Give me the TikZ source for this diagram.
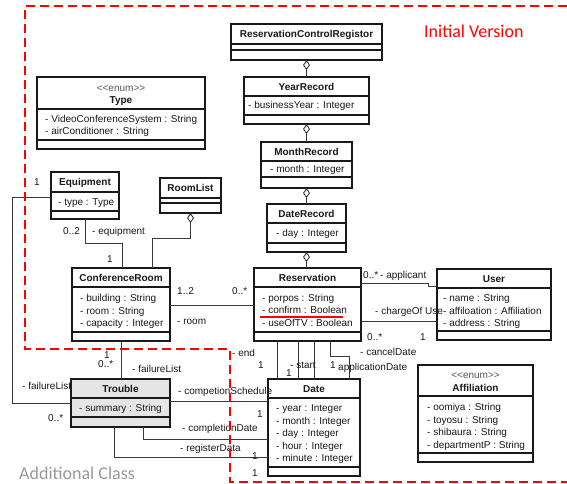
\documentclass[tikz,border=0pt]{standalone}
\usepackage{fontspec}
\newfontfamily\umlfont{Liberation Sans}
\newfontfamily\slidefont{Carlito}
\usetikzlibrary{arrows.meta}

% class box: [extra style]{name}{x1}{y1}{x2}{y2}{first separator}{second separator}
\newcommand\umlclass[8][]{%
  \node[classbox,#1,minimum width={#5pt-#3pt},minimum height={#6pt-#4pt}] (#2) at (#3,#4) {};
  \draw[sepline] (#2.west |- 0,#7) -- (#2.east |- 0,#7);
  \draw[sepline] (#2.west |- 0,#8) -- (#2.east |- 0,#8);
}

\begin{document}
\begin{tikzpicture}[x=1pt,y=-1pt,
  classbox/.style={draw=black!90,line width=1.6pt,fill=white,inner sep=0pt,outer sep=0pt,anchor=north west},
  sepline/.style={draw=black!90,line width=1.4pt},
  cname/.style={font=\umlfont\bfseries\fontsize{10}{12}\selectfont,inner sep=0pt,anchor=base,text=black!90},
  stereo/.style={font=\umlfont\fontsize{10}{12}\selectfont,inner sep=0pt,anchor=base,text=black!65},
  attr/.style={font=\umlfont\fontsize{10}{12}\selectfont,inner sep=0pt,anchor=base west,text=black!90},
  lbl/.style={font=\umlfont\fontsize{10}{12}\selectfont,inner sep=0pt,anchor=base west,text=black!90},
  conn/.style={draw=black!78,line width=0.9pt},
  agg/.style={conn,{Diamond[open,length=10pt,width=7pt]}-},
  region/.style={draw=red,line width=1.9pt,dash pattern=on 9pt off 5pt},
]
\useasboundingbox (0,0) rectangle (567,484);

% ---------- classes ----------
\umlclass{rcr}{231}{24}{382}{60}{44}{50}
\umlclass{year}{244}{77}{369}{124}{96}{115}
\umlclass{month}{261}{142}{352}{188}{161}{177}
\umlclass{dater}{267}{204}{346}{252}{223}{243}
\umlclass{res}{254}{268}{361}{341}{287}{332}
\umlclass{user}{437}{269}{551}{340}{288}{331}
\umlclass{croom}{72}{268}{170}{341}{287}{332}
\umlclass{equip}{51}{172}{119}{219}{192}{211}
\umlclass{roomlist}{160}{178}{221}{213}{198}{203}
\umlclass{typeenum}{37}{77}{205}{149}{109}{140}
\umlclass[fill=black!10]{trouble}{71}{379}{170}{427}{398}{417}
\umlclass{date}{268}{379}{360}{476}{398}{467}
\umlclass{affil}{418}{365}{533}{462}{396}{453}

% ---------- connectors ----------
\draw[agg] (rcr.south) -- (year.north);
\draw[agg] (year.south) -- (month.north);
\draw[agg] (month.south) -- (dater.north);
\draw[agg] (dater.south) -- (res.north -| dater.south);
\draw[agg] (roomlist.south) |- (152,238) -- (croom.north -| 152,0);
\draw[conn] (equip.south -| 85,0) |- (122,243) -- (croom.north -| 122,0);
\draw[conn] (croom.east |- 0,305) -- (res.west |- 0,305);
\draw[conn] (res.east |- 0,283) -- (428,283) -- (428,286) -- (user.west |- 0,286);
\draw[conn] (res.east |- 0,321) -- (user.west |- 0,321);
\draw[conn] (croom.south -| 121,0) -- (trouble.north -| 121,0);
\draw[conn] (equip.west |- 0,197) -| (12,403) -- (trouble.west |- 0,403);
\draw[conn] (trouble.east |- 0,401) -- (date.west |- 0,401);
\draw[conn] (trouble.south -| 143,0) |- (date.west |- 0,439);
\draw[conn] (trouble.south -| 114,0) |- (date.west |- 0,457);
\draw[conn] (res.south -| 277,0) -- (date.north -| 277,0);
\draw[conn] (res.south -| 298,0) -- (date.north -| 298,0);
\draw[conn] (res.south -| 314,0) -- (date.north -| 314,0);
\draw[conn] (res.south -| 330,0) |- (349,356.5) -- (date.north -| 349,0);

% ---------- class contents ----------
\node[cname] (rcrN) at (306.5,37.6) {ReservationControlRegistor};

\node[cname] (yearN) at (306.5,90.1) {YearRecord};
\node[attr] (yearA) at (248,109) {- businessYear : Integer};

\node[cname] (monthN) at (306.5,155.1) {MonthRecord};
\node[attr] (monthA) at (270,172.5) {- month : Integer};

\node[cname] (daterN) at (306.5,217.1) {DateRecord};
\node[attr] (daterA) at (276,236.5) {- day : Integer};

\node[cname] (resN) at (307.5,281.1) {Reservation};
\node[attr] (resA1) at (262,301.5) {- porpos : String};
\node[attr] (resA2) at (262,313.5) {- confirm : Boolean};
\node[attr] (resA3) at (262,326.5) {- useOfTV : Boolean};
\draw[red,line width=2.2pt] (260,316.6) -- (343,316.6);

\node[cname] (userN) at (494,282.1) {User};
\node[attr] (userA1) at (443,301.5) {- name : String};
\node[attr] (userA2) at (443,314) {- affiloation : Affiliation};
\node[attr] (userA3) at (443,326.5) {- address : String};

\node[cname] (croomN) at (121,281.1) {ConferenceRoom};
\node[attr] (croomA1) at (80,301.5) {- building : String};
\node[attr] (croomA2) at (80,314) {- room : String};
\node[attr] (croomA3) at (80,326.5) {- capacity : Integer};

\node[cname] (equipN) at (85,185.6) {Equipment};
\node[attr] (equipA) at (58,205.5) {- type : Type};

\node[cname] (roomlistN) at (190.5,191.6) {RoomList};

\node[stereo] (typeS) at (121,91.6) {<<enum>>};
\node[cname] (typeN) at (121,103.6) {Type};
\node[attr] (typeA1) at (45,122.5) {- VideoConferenceSystem : String};
\node[attr] (typeA2) at (45,134.5) {- airConditioner : String};

\node[cname] (troubleN) at (120.5,392.1) {Trouble};
\node[attr] (troubleA) at (79,411.5) {- summary : String};

\node[cname] (dateN) at (314,392.1) {Date};
\node[attr] (dateA1) at (276,411.5) {- year : Integer};
\node[attr] (dateA2) at (276,424) {- month : Integer};
\node[attr] (dateA3) at (276,436.5) {- day : Integer};
\node[attr] (dateA4) at (276,449) {- hour : Integer};
\node[attr] (dateA5) at (276,461.5) {- minute : Integer};

\node[stereo] (affilS) at (475.5,378.6) {<<enum>>};
\node[cname] (affilN) at (475.5,391.6) {Affiliation};
\node[attr] (affilA1) at (427,410.5) {- oomiya : String};
\node[attr] (affilA2) at (427,423) {- toyosu : String};
\node[attr] (affilA3) at (427,435.5) {- shibaura : String};
\node[attr] (affilA4) at (427,448) {- departmentP : String};

% ---------- association labels ----------
\node[lbl] (m1) at (63,234.5) {0..2};
\node[lbl] (l1) at (92,234.5) {- equipment};
\node[lbl] (m2) at (107,262.5) {1};
\node[lbl] (m3) at (34,185.5) {1};
\node[lbl] (m4) at (177,294.5) {1..2};
\node[lbl] (m5) at (232,294.5) {0..*};
\node[lbl] (l2) at (177,324.5) {- room};
\node[lbl] (m6) at (363,278.5) {0..*};
\node[lbl] (l3) at (380,278.5) {- applicant};
\node[lbl] (l4) at (375,314.5) {- chargeOf Use};
\node[lbl] (m7) at (367,340.5) {0..*};
\node[lbl] (m8) at (420,340.5) {1};
\node[lbl] (m9) at (104,358.5) {1};
\node[lbl] (m10) at (98,367.5) {0..*};
\node[lbl] (l5) at (132,372.5) {- failureList};
\node[lbl] (l6) at (22,389.5) {- failureList};
\node[lbl] (m11) at (48,421.5) {0..*};
\node[lbl] (l7) at (178,394.5) {- competionSchedule};
\node[lbl] (m12) at (257,417.5) {1};
\node[lbl] (l8) at (182,431.5) {- completionDate};
\node[lbl] (l9) at (180,451.5) {- registerData};
\node[lbl] (m13) at (252,459.5) {1};
\node[lbl] (m14) at (252,476.5) {1};
\node[lbl] (l10) at (232,356.5) {- end};
\node[lbl] (m15) at (258,368.5) {1};
\node[lbl] (l11) at (290,368.5) {- start};
\node[lbl] (m16) at (286,376.5) {1};
\node[lbl] (m17) at (330,368.5) {1};
\node[lbl] (l12) at (338,370.5) {applicationDate};
\node[lbl] (l13) at (360,355.5) {- cancelDate};

% ---------- version regions ----------
\draw[region] (567,6) -- (25,6) -- (25,349) -- (230,349) -- (230,482) -- (567,482);
\node[font=\slidefont\fontsize{18}{20}\selectfont,text=red,inner sep=0pt,anchor=west] (initial) at (424,31) {Initial Version};
\node[font=\slidefont\fontsize{18}{20}\selectfont,text=black!40,inner sep=0pt,anchor=west] (additional) at (19,473) {Additional Class};
\end{tikzpicture}
\end{document}
